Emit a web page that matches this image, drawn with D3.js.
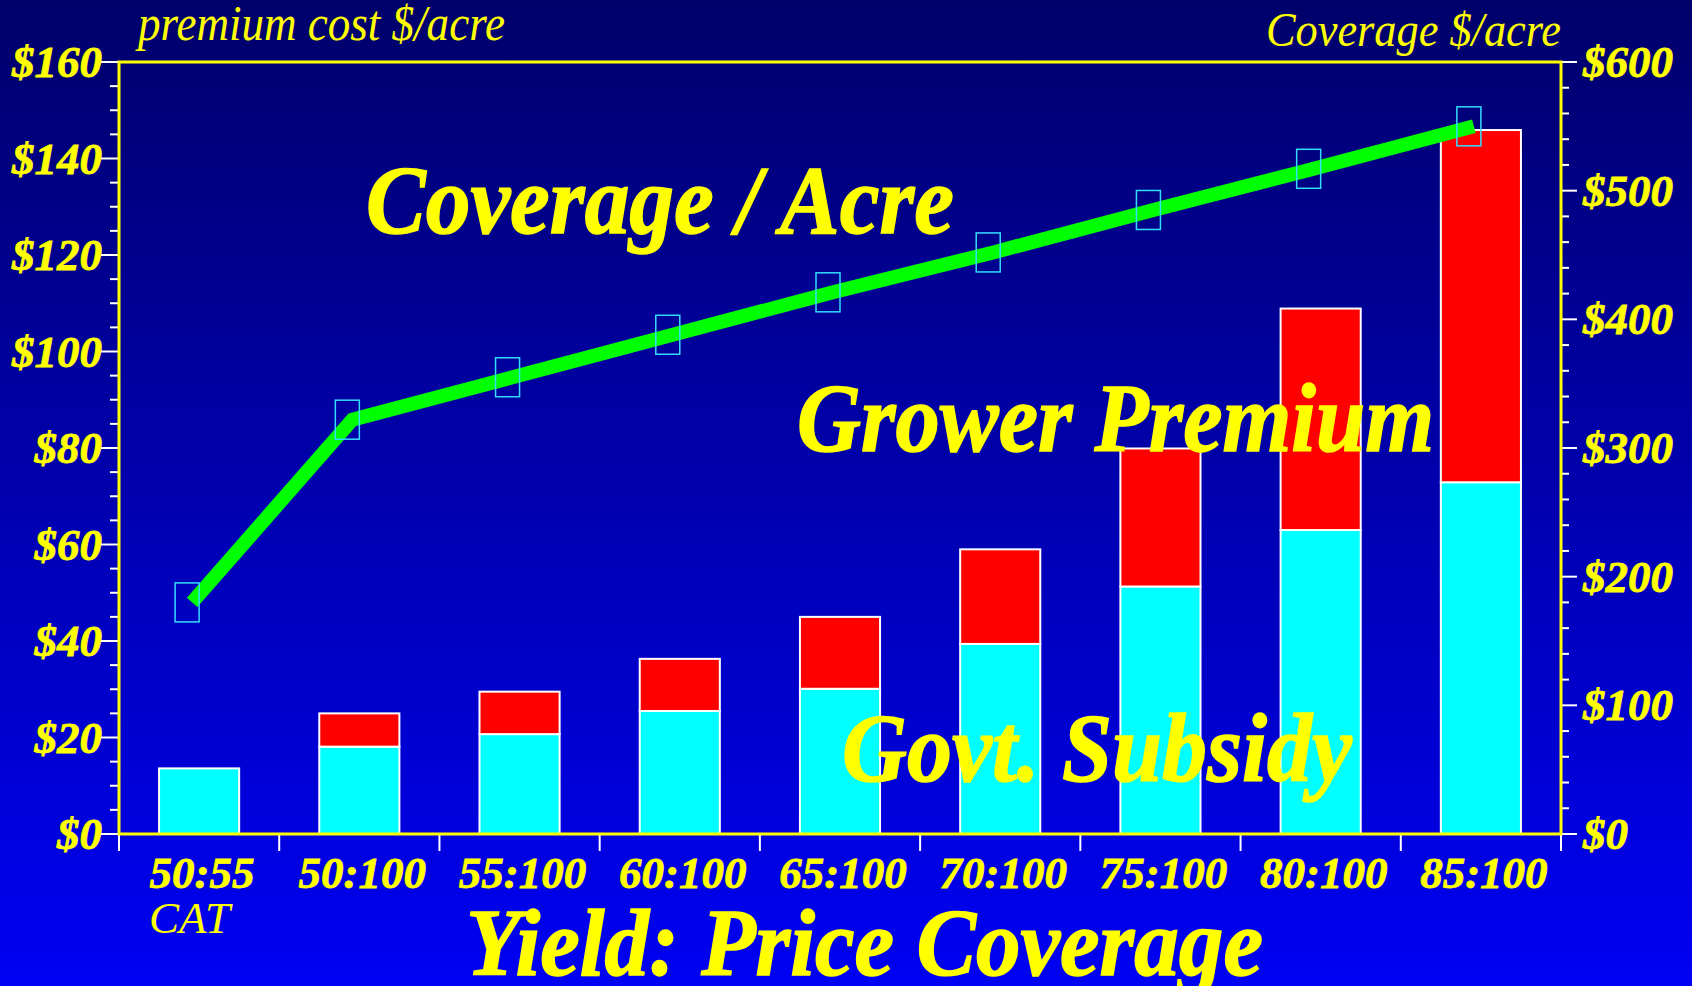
<!DOCTYPE html>
<html>
<head>
<meta charset="utf-8">
<script src="https://cdn.jsdelivr.net/npm/d3@7"></script>
<style>
  html, body { margin: 0; padding: 0; background: #000070; overflow: hidden; }
  svg { display: block; }
</style>
</head>
<body>
<svg id="chart" width="1692" height="986"></svg>
<script>
// ---------------- DATA ----------------
const categories = ["50:55", "50:100", "55:100", "60:100", "65:100", "70:100", "75:100", "80:100", "85:100"];
const govtSubsidy   = [13.6, 18.1, 20.7, 25.5, 30.1, 39.4, 51.3, 63.0, 72.9];
const growerPremium = [0, 6.9, 8.8, 10.8, 14.9, 19.6, 28.6, 45.9, 73.0];
const coverage      = [180, 322, 355, 388, 421, 452, 485, 517, 550];
const leftTicks  = [0, 20, 40, 60, 80, 100, 120, 140, 160];
const rightTicks = [0, 100, 200, 300, 400, 500, 600];

// ---------------- LAYOUT ----------------
const W = 1692, H = 986;
const plot = { left: 119, right: 1561, top: 62, bottom: 834 };
const YELLOW = "#ffff00";
const FONT = "'Liberation Serif', 'Times New Roman', serif";

const svg = d3.select("#chart");

// background gradient
const defs = svg.append("defs");
const grad = defs.append("linearGradient").attr("id", "bg").attr("x1", 0).attr("y1", 0).attr("x2", 0).attr("y2", 1);
grad.append("stop").attr("offset", "0%").attr("stop-color", "#00006a");
grad.append("stop").attr("offset", "100%").attr("stop-color", "#0000f4");
svg.append("rect").attr("width", W).attr("height", H).attr("fill", "url(#bg)");

// scales
const x = d3.scaleBand().domain(categories).range([plot.left, plot.right]).paddingInner(0.5).paddingOuter(0.25);
const yL = d3.scaleLinear().domain([0, 160]).range([plot.bottom, plot.top]);
const yR = d3.scaleLinear().domain([0, 600]).range([plot.bottom, plot.top]);
const step = x.step();
const markerOffset = -12;
const lineOffset = -7;

// ---------------- BARS ----------------
const rows = categories.map((c, i) => ({ c, g: govtSubsidy[i], p: growerPremium[i] }));
const barG = svg.append("g");
barG.selectAll("rect.gov").data(rows).join("rect")
  .attr("x", d => x(d.c)).attr("width", x.bandwidth())
  .attr("y", d => yL(d.g)).attr("height", d => yL(0) - yL(d.g))
  .attr("fill", "#00ffff").attr("stroke", "#ffffff").attr("stroke-width", 2);
barG.selectAll("rect.prem").data(rows.filter(d => d.p > 0)).join("rect")
  .attr("x", d => x(d.c)).attr("width", x.bandwidth())
  .attr("y", d => yL(d.g + d.p)).attr("height", d => yL(d.g) - yL(d.g + d.p))
  .attr("fill", "#ff0000").attr("stroke", "#ffffff").attr("stroke-width", 2);

// ---------------- AXES ----------------
const axG = svg.append("g");
const leftMinor = d3.range(0, 161, 5);
axG.selectAll("line.lt").data(leftMinor).join("line")
  .attr("x1", d => leftTicks.includes(d) ? plot.left - 18 : plot.left - 9).attr("x2", plot.left)
  .attr("y1", d => yL(d)).attr("y2", d => yL(d))
  .attr("stroke", "#ffffff").attr("stroke-width", 2);
const rightMinor = d3.range(0, 601, 20);
axG.selectAll("line.rt").data(rightMinor).join("line")
  .attr("x1", plot.right).attr("x2", d => rightTicks.includes(d) ? plot.right + 16 : plot.right + 8)
  .attr("y1", d => yR(d)).attr("y2", d => yR(d))
  .attr("stroke", "#ffffff").attr("stroke-width", 2);
const bounds = d3.range(categories.length + 1).map(i => plot.left + i * step);
axG.selectAll("line.xt").data(bounds).join("line")
  .attr("x1", d => d).attr("x2", d => d)
  .attr("y1", plot.bottom).attr("y2", plot.bottom + 17)
  .attr("stroke", "#ffffff").attr("stroke-width", 2);

axG.append("rect")
  .attr("x", plot.left).attr("y", plot.top)
  .attr("width", plot.right - plot.left).attr("height", plot.bottom - plot.top)
  .attr("fill", "none").attr("stroke", YELLOW).attr("stroke-width", 3);

axG.selectAll("text.ll").data(leftTicks).join("text")
  .attr("x", plot.left - 17).attr("y", d => yL(d) + 15)
  .attr("text-anchor", "end")
  .attr("font-family", FONT).attr("font-weight", "bold").attr("font-style", "italic")
  .attr("font-size", 45).attr("fill", YELLOW)
  .attr("stroke", YELLOW).attr("stroke-width", 0.8)
  .text(d => "$" + d);
axG.selectAll("text.rl").data(rightTicks).join("text")
  .attr("x", plot.right + 22).attr("y", d => yR(d) + 15)
  .attr("text-anchor", "start")
  .attr("font-family", FONT).attr("font-weight", "bold").attr("font-style", "italic")
  .attr("font-size", 45).attr("fill", YELLOW)
  .attr("stroke", YELLOW).attr("stroke-width", 0.8)
  .text(d => "$" + d);
axG.selectAll("text.xl").data(categories).join("text")
  .attr("x", d => x(d) + x.bandwidth() / 2 + 3).attr("y", plot.bottom + 54)
  .attr("text-anchor", "middle")
  .attr("font-family", FONT).attr("font-weight", "bold").attr("font-style", "italic")
  .attr("font-size", 45).attr("fill", YELLOW)
  .attr("stroke", YELLOW).attr("stroke-width", 0.8)
  .text(d => d);
svg.append("text")
  .attr("x", x(categories[0]) - 10).attr("y", 933)
  .attr("font-family", FONT).attr("font-style", "italic")
  .attr("font-size", 45).attr("fill", YELLOW)
  .text("CAT");

// ---------------- LINE ----------------
const centers = categories.map(c => x(c) + x.bandwidth() / 2);
const linePts = centers.map((cx, i) => [cx + lineOffset, yR(coverage[i])]);
const markPts = centers.map((cx, i) => [cx + markerOffset, yR(coverage[i])]);
svg.append("path")
  .attr("d", d3.line()(linePts))
  .attr("fill", "none").attr("stroke", "#00ff00").attr("stroke-width", 14)
  .attr("stroke-linejoin", "miter").attr("stroke-linecap", "butt");
svg.selectAll("rect.mk").data(markPts).join("rect")
  .attr("x", d => d[0] - 12).attr("y", d => d[1] - 19.5)
  .attr("width", 24).attr("height", 39)
  .attr("fill", "none").attr("stroke", "#33ddff").attr("stroke-width", 1.5);

// ---------------- TEXTS ----------------
function label(txt, xPos, yPos, size, len, weight, style, sw) {
  svg.append("text")
    .attr("x", xPos).attr("y", yPos)
    .attr("font-family", FONT).attr("font-weight", weight).attr("font-style", style)
    .attr("font-size", size).attr("fill", YELLOW)
    .attr("stroke", YELLOW).attr("stroke-width", sw)
    .attr("textLength", len).attr("lengthAdjust", "spacingAndGlyphs")
    .text(txt);
}
label("premium cost $/acre", 138, 40, 50, 367, "normal", "italic", 0);
label("Coverage $/acre", 1266, 46, 48, 295, "normal", "italic", 0);
label("Coverage / Acre", 366, 233, 97, 588, "bold", "italic", 1.5);
label("Grower Premium", 797, 451, 97, 637, "bold", "italic", 1.5);
label("Govt. Subsidy", 842, 781, 97, 510, "bold", "italic", 1.5);
label("Yield: Price Coverage", 466, 975, 96, 797, "bold", "italic", 1.5);
</script>
</body>
</html>
